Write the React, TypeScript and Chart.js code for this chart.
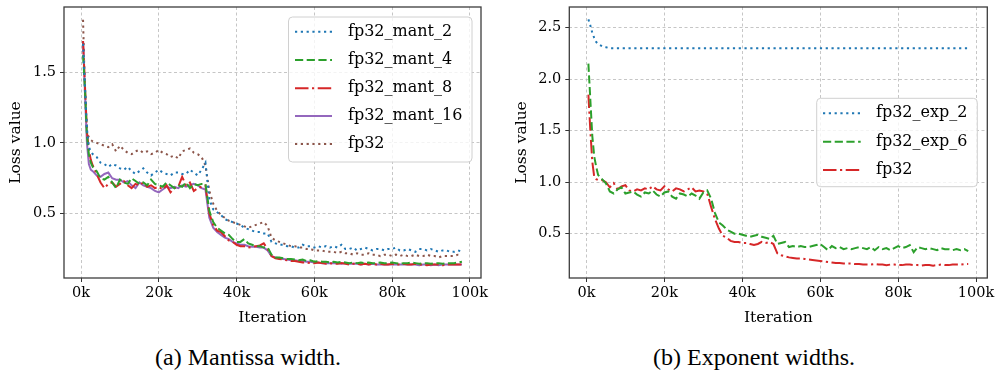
import React, { useEffect, useRef } from 'react';
import { Chart, registerables } from 'chart.js';
Chart.register(...registerables);

// Iterations (x values)
const iterations = [
  500, 1000, 1500, 2000, 2500, 3000, 4000, 5000, 6000, 7000, 8000, 9000, 10000,
  11000, 12000, 13000, 14000, 15000, 16000, 17000, 18000, 19000, 20000,
  21000, 22000, 23000, 24000, 25000, 26000, 27000, 28000, 29000, 30000,
  31000, 32000, 33000, 34000, 35000, 36000, 37000, 38000, 39000, 40000,
  41000, 42000, 43000, 44000, 45000, 46000, 47000, 48000, 49000, 50000,
  51000, 52000, 53000, 54000, 55000, 56000, 57000, 58000, 59000, 60000,
  61000, 62000, 63000, 64000, 65000, 66000, 67000, 68000, 69000, 70000,
  71000, 72000, 73000, 74000, 75000, 76000, 77000, 78000, 79000, 80000,
  81000, 82000, 83000, 84000, 85000, 86000, 87000, 88000, 89000, 90000,
  91000, 92000, 93000, 94000, 95000, 96000, 97000, 98000,
];

const xTicksK = [0, 20, 40, 60, 80, 100];

// ---- (a) Mantissa width ----
const fp32Mant2 = [
  1.70, 1.40, 1.10, 0.97, 0.94, 0.92, 0.90, 0.86, 0.85, 0.83, 0.85, 0.84, 0.82,
  0.81, 0.83, 0.80, 0.78, 0.80, 0.82, 0.79, 0.77, 0.79, 0.81,
  0.79, 0.78, 0.77, 0.79, 0.79, 0.78, 0.78, 0.81, 0.79, 0.77,
  0.81, 0.86, 0.60, 0.53, 0.51, 0.49, 0.46, 0.45, 0.44, 0.43,
  0.42, 0.40, 0.39, 0.38, 0.37, 0.37, 0.36, 0.36, 0.30, 0.29,
  0.28, 0.28, 0.27, 0.27, 0.26, 0.26, 0.28, 0.27, 0.27, 0.26,
  0.27, 0.26, 0.27, 0.26, 0.27, 0.26, 0.28, 0.25, 0.25, 0.26,
  0.24, 0.25, 0.26, 0.25, 0.24, 0.25, 0.25, 0.24, 0.25, 0.25,
  0.26, 0.24, 0.24, 0.25, 0.24, 0.23, 0.25, 0.25, 0.24, 0.25,
  0.24, 0.23, 0.24, 0.24, 0.23, 0.23, 0.24, 0.23,
];
const fp32Mant4 = [
  1.62, 1.38, 1.05, 0.92, 0.86, 0.83, 0.80, 0.75, 0.74, 0.76, 0.72, 0.68, 0.74,
  0.72, 0.71, 0.75, 0.73, 0.71, 0.72, 0.70, 0.74, 0.71, 0.70,
  0.69, 0.72, 0.70, 0.68, 0.70, 0.69, 0.72, 0.68, 0.71, 0.70,
  0.71, 0.71, 0.52, 0.44, 0.40, 0.38, 0.36, 0.35, 0.32, 0.30,
  0.30, 0.32, 0.29, 0.28, 0.27, 0.27, 0.26, 0.26, 0.21, 0.19,
  0.19, 0.185, 0.18, 0.18, 0.175, 0.17, 0.175, 0.165, 0.17, 0.16,
  0.165, 0.16, 0.16, 0.155, 0.16, 0.155, 0.16, 0.155, 0.15, 0.155,
  0.15, 0.155, 0.15, 0.155, 0.15, 0.15, 0.155, 0.15, 0.15, 0.155,
  0.15, 0.145, 0.15, 0.15, 0.155, 0.15, 0.145, 0.15, 0.15, 0.145,
  0.15, 0.15, 0.145, 0.15, 0.15, 0.15, 0.155, 0.16,
];
const fp32Mant8 = [
  1.72, 1.40, 1.08, 0.95, 0.88, 0.84, 0.78, 0.72, 0.68, 0.71, 0.72, 0.69, 0.71,
  0.73, 0.70, 0.68, 0.71, 0.70, 0.72, 0.69, 0.70, 0.68, 0.69,
  0.67, 0.70, 0.65, 0.68, 0.69, 0.76, 0.70, 0.72, 0.66, 0.68,
  0.69, 0.70, 0.50, 0.42, 0.38, 0.37, 0.34, 0.31, 0.30, 0.28,
  0.27, 0.27, 0.26, 0.265, 0.27, 0.275, 0.29, 0.25, 0.20, 0.185,
  0.18, 0.175, 0.17, 0.165, 0.165, 0.16, 0.155, 0.155, 0.15, 0.15,
  0.155, 0.15, 0.145, 0.15, 0.145, 0.145, 0.15, 0.145, 0.14, 0.145,
  0.145, 0.14, 0.145, 0.14, 0.145, 0.14, 0.145, 0.14, 0.14, 0.145,
  0.14, 0.14, 0.145, 0.14, 0.14, 0.145, 0.14, 0.14, 0.135, 0.14,
  0.14, 0.14, 0.135, 0.14, 0.14, 0.14, 0.14, 0.14,
];
const fp32Mant16 = [
  1.72, 1.35, 1.00, 0.85, 0.81, 0.80, 0.77, 0.76, 0.78, 0.79, 0.75, 0.74, 0.74,
  0.72, 0.73, 0.70, 0.68, 0.72, 0.70, 0.69, 0.68, 0.66, 0.65,
  0.67, 0.69, 0.68, 0.69, 0.68, 0.70, 0.69, 0.70, 0.71, 0.70,
  0.68, 0.67, 0.47, 0.40, 0.37, 0.35, 0.33, 0.32, 0.30, 0.29,
  0.28, 0.28, 0.27, 0.265, 0.265, 0.26, 0.26, 0.24, 0.20, 0.19,
  0.185, 0.18, 0.175, 0.17, 0.17, 0.165, 0.165, 0.16, 0.16, 0.155,
  0.155, 0.15, 0.15, 0.15, 0.15, 0.15, 0.145, 0.15, 0.145, 0.145,
  0.145, 0.14, 0.145, 0.14, 0.145, 0.14, 0.14, 0.14, 0.14, 0.14,
  0.14, 0.14, 0.14, 0.14, 0.14, 0.14, 0.135, 0.14, 0.14, 0.135,
  0.14, 0.135, 0.14, 0.14, 0.14, 0.14, 0.14, 0.14,
];
const fp32MantRef = [
  1.87, 1.35, 1.07, 1.04, 1.02, 1.01, 1.00, 0.99, 0.98, 0.97, 0.99, 0.94, 0.98,
  0.95, 0.93, 0.92, 0.94, 0.95, 0.93, 0.94, 0.92, 0.93, 0.95,
  0.93, 0.92, 0.90, 0.91, 0.89, 0.94, 0.95, 0.96, 0.93, 0.92,
  0.90, 0.84, 0.66, 0.57, 0.52, 0.49, 0.47, 0.45, 0.44, 0.43,
  0.42, 0.41, 0.40, 0.41, 0.42, 0.43, 0.44, 0.41, 0.33, 0.31,
  0.30, 0.29, 0.28, 0.27, 0.27, 0.26, 0.26, 0.25, 0.25, 0.24,
  0.24, 0.24, 0.23, 0.23, 0.23, 0.22, 0.23, 0.22, 0.22, 0.21,
  0.22, 0.21, 0.21, 0.22, 0.21, 0.21, 0.20, 0.21, 0.21, 0.20,
  0.21, 0.20, 0.21, 0.20, 0.20, 0.21, 0.20, 0.20, 0.21, 0.20,
  0.20, 0.19, 0.20, 0.20, 0.20, 0.20, 0.21, 0.21,
];

// ---- (b) Exponent widths ----
const fp32Exp2 = [
  2.58, 2.52, 2.45, 2.40, 2.36, 2.34, 2.32, 2.31, 2.30, 2.30, 2.30, 2.30, 2.30,
  2.30, 2.30, 2.30, 2.30, 2.30, 2.30, 2.30, 2.30, 2.30, 2.30,
  2.30, 2.30, 2.30, 2.30, 2.30, 2.30, 2.30, 2.30, 2.30, 2.30,
  2.30, 2.30, 2.30, 2.30, 2.30, 2.30, 2.30, 2.30, 2.30, 2.30,
  2.30, 2.30, 2.30, 2.30, 2.30, 2.30, 2.30, 2.30, 2.30, 2.30,
  2.30, 2.30, 2.30, 2.30, 2.30, 2.30, 2.30, 2.30, 2.30, 2.30,
  2.30, 2.30, 2.30, 2.30, 2.30, 2.30, 2.30, 2.30, 2.30, 2.30,
  2.30, 2.30, 2.30, 2.30, 2.30, 2.30, 2.30, 2.30, 2.30, 2.30,
  2.30, 2.30, 2.30, 2.30, 2.30, 2.30, 2.30, 2.30, 2.30, 2.30,
  2.30, 2.30, 2.30, 2.30, 2.30, 2.30, 2.30, 2.30,
];
const fp32Exp6 = [
  2.15, 1.80, 1.45, 1.25, 1.15, 1.07, 1.03, 0.99, 0.91, 0.89, 0.93, 0.95, 0.89,
  0.90, 0.91, 0.88, 0.86, 0.90, 0.89, 0.92, 0.88, 0.86, 0.90,
  0.91, 0.86, 0.84, 0.89, 0.88, 0.86, 0.89, 0.87, 0.84, 0.90,
  0.92, 0.84, 0.70, 0.61, 0.58, 0.54, 0.52, 0.50, 0.50, 0.49,
  0.48, 0.47, 0.48, 0.49, 0.47, 0.46, 0.45, 0.48, 0.40, 0.41,
  0.42, 0.37, 0.38, 0.37, 0.38, 0.37, 0.37, 0.38, 0.39, 0.40,
  0.37, 0.34, 0.38, 0.36, 0.37, 0.35, 0.36, 0.35, 0.36, 0.37,
  0.36, 0.35, 0.37, 0.34, 0.37, 0.35, 0.36, 0.34, 0.36, 0.38,
  0.36, 0.37, 0.39, 0.32, 0.37, 0.36, 0.35, 0.36, 0.35, 0.34,
  0.36, 0.35, 0.35, 0.34, 0.35, 0.34, 0.35, 0.33,
];
const fp32ExpRef = [
  1.85, 1.50, 1.20, 1.05, 1.03, 1.02, 1.02, 1.00, 0.95, 0.99, 0.93, 0.96, 0.97,
  0.92, 0.91, 0.93, 0.92, 0.94, 0.93, 0.96, 0.93, 0.92, 0.96,
  0.93, 0.91, 0.94, 0.93, 0.91, 0.93, 0.95, 0.91, 0.92, 0.91,
  0.89, 0.76, 0.64, 0.55, 0.48, 0.46, 0.43, 0.42, 0.42, 0.41,
  0.41, 0.40, 0.39, 0.40, 0.42, 0.41, 0.42, 0.40, 0.31, 0.29,
  0.28, 0.27, 0.265, 0.26, 0.26, 0.255, 0.25, 0.245, 0.24, 0.235,
  0.23, 0.225, 0.22, 0.215, 0.215, 0.21, 0.21, 0.21, 0.205, 0.205,
  0.20, 0.20, 0.20, 0.205, 0.20, 0.20, 0.195, 0.20, 0.20, 0.195,
  0.195, 0.20, 0.20, 0.195, 0.195, 0.19, 0.195, 0.195, 0.19, 0.195,
  0.20, 0.195, 0.195, 0.20, 0.20, 0.20, 0.205, 0.205,
];

const BLUE = '#1f77b4';
const GREEN = '#2ca02c';
const RED = '#d62728';
const PURPLE = '#9467bd';
const BROWN = '#8c564b';

const LW = 2;
const DOTTED = [2.2, 3.6];
const DASHED = [8.2, 3.5];
const DASHDOT = [13.5, 3.5, 2.2, 3.5];
const SOLID: number[] = [];

const TICK_FONT = { family: '"DejaVu Serif", serif', size: 14.5 };
const TITLE_FONT = { family: '"DejaVu Serif", serif', size: 15.5 };
const LEGEND_FONT = '16px "DejaVu Serif", serif';

function pts(ys: number[]) {
  return ys.map((y, i) => ({ x: iterations[i], y }));
}

function ds(label: string, ys: number[], color: string, dash: number[]) {
  return {
    label,
    data: pts(ys),
    borderColor: color,
    backgroundColor: color,
    borderWidth: LW,
    borderDash: dash,
    pointRadius: 0,
    tension: 0,
    fill: false,
  };
}

const framePlugin = {
  id: 'frame',
  afterDatasetsDraw(chart: any) {
    const { ctx, chartArea: a } = chart;
    ctx.save();
    ctx.strokeStyle = '#3c3c3c';
    ctx.lineWidth = 1.3;
    ctx.setLineDash([]);
    ctx.strokeRect(a.left, a.top, a.right - a.left, a.bottom - a.top);
    ctx.restore();
  },
};

const boxLegendPlugin = {
  id: 'boxLegend',
  afterDatasetsDraw(chart: any, _args: any, opts: any) {
    const { ctx } = chart;
    const { box, rows, handleX0, handleX1, textX } = opts;
    ctx.save();
    const r = 4;
    const { x, y, w, h } = box;
    ctx.beginPath();
    ctx.moveTo(x + r, y);
    ctx.lineTo(x + w - r, y);
    ctx.arcTo(x + w, y, x + w, y + r, r);
    ctx.lineTo(x + w, y + h - r);
    ctx.arcTo(x + w, y + h, x + w - r, y + h, r);
    ctx.lineTo(x + r, y + h);
    ctx.arcTo(x, y + h, x, y + h - r, r);
    ctx.lineTo(x, y + r);
    ctx.arcTo(x, y, x + r, y, r);
    ctx.closePath();
    ctx.fillStyle = 'rgba(255,255,255,0.8)';
    ctx.fill();
    ctx.strokeStyle = '#d0d0d0';
    ctx.lineWidth = 1;
    ctx.stroke();
    chart.data.datasets.forEach((d: any, i: number) => {
      const yy = rows[i];
      ctx.beginPath();
      ctx.strokeStyle = d.borderColor;
      ctx.lineWidth = d.borderWidth;
      ctx.setLineDash(d.borderDash || []);
      ctx.moveTo(handleX0, yy);
      ctx.lineTo(handleX1, yy);
      ctx.stroke();
      ctx.setLineDash([]);
      ctx.fillStyle = '#000';
      ctx.font = LEGEND_FONT;
      ctx.textBaseline = 'middle';
      ctx.textAlign = 'left';
      ctx.fillText(d.label, textX, yy);
    });
    ctx.restore();
  },
};

type Panel = {
  width: number;
  height: number;
  areaLeft: number;
  areaRight: number;
  areaTop: number;
  areaBottom: number;
  yMin: number;
  yMax: number;
  yTitlePad: number;
  datasets: any[];
  legend: any;
};

function makeConfig(p: Panel): any {
  return {
    type: 'line',
    data: { datasets: p.datasets },
    plugins: [framePlugin, boxLegendPlugin],
    options: {
      responsive: false,
      animation: false,
      events: [],
      layout: {
        padding: { left: 0, top: p.areaTop, right: p.width - p.areaRight, bottom: 0 },
      },
      plugins: {
        legend: { display: false },
        tooltip: { enabled: false },
        boxLegend: p.legend,
      },
      scales: {
        x: {
          type: 'linear',
          min: -4400,
          max: 102900,
          afterFit(s: any) {
            s.height = p.height - p.areaBottom;
            s.paddingLeft = 0;
            s.paddingRight = 0;
          },
          afterBuildTicks(s: any) {
            s.ticks = xTicksK.map((k) => ({ value: k * 1000 }));
          },
          ticks: {
            includeBounds: false,
            autoSkip: false,
            maxRotation: 0,
            padding: 3,
            color: '#000',
            font: TICK_FONT,
            callback: (v: number) => `${Math.round(v / 1000)}k`,
          },
          grid: {
            color: '#b8b8b8',
            lineWidth: 0.8,
            drawTicks: true,
            tickLength: 4,
            tickColor: '#333',
            tickWidth: 1,
            tickBorderDash: [],
          },
          border: { display: false, dash: [3, 2.5] },
          title: {
            display: true,
            text: 'Iteration',
            color: '#000',
            font: TITLE_FONT,
            padding: { top: 0, bottom: 12.5 },
          },
        },
        y: {
          type: 'linear',
          min: p.yMin,
          max: p.yMax,
          afterFit(s: any) {
            s.width = p.areaLeft;
            s.paddingTop = 0;
            s.paddingBottom = 0;
          },
          ticks: {
            includeBounds: false,
            stepSize: 0.5,
            padding: 4,
            color: '#000',
            font: TICK_FONT,
            callback: (v: number) => v.toFixed(1),
          },
          grid: {
            color: '#b8b8b8',
            lineWidth: 0.8,
            drawTicks: true,
            tickLength: 4,
            tickColor: '#333',
            tickWidth: 1,
            tickBorderDash: [],
          },
          border: { display: false, dash: [3, 2.5] },
          title: {
            display: true,
            text: 'Loss value',
            color: '#000',
            font: TITLE_FONT,
            padding: { top: p.yTitlePad, bottom: 0 },
          },
        },
      },
    },
  };
}

function ChartPanel({ panel, left }: { panel: Panel; left: number }) {
  const ref = useRef<HTMLCanvasElement | null>(null);
  useEffect(() => {
    if (!ref.current) return;
    const chart = new Chart(ref.current, makeConfig(panel));
    return () => chart.destroy();
  }, []);
  return (
    <canvas
      ref={ref}
      width={panel.width}
      height={panel.height}
      style={{ position: 'absolute', left, top: 0, width: panel.width, height: panel.height, display: 'block' }}
    />
  );
}

const panelA: Panel = {
  width: 497,
  height: 340,
  areaLeft: 64,
  areaRight: 481,
  areaTop: 7,
  areaBottom: 278,
  yMin: 0.045,
  yMax: 1.96,
  yTitlePad: 6.7,
  datasets: [
    ds('fp32_mant_2', fp32Mant2, BLUE, DOTTED),
    ds('fp32_mant_4', fp32Mant4, GREEN, DASHED),
    ds('fp32_mant_8', fp32Mant8, RED, DASHDOT),
    ds('fp32_mant_16', fp32Mant16, PURPLE, SOLID),
    ds('fp32', fp32MantRef, BROWN, DOTTED),
  ],
  legend: {
    box: { x: 288.5, y: 17, w: 183.5, h: 145 },
    rows: [31.7, 60, 88.3, 116, 144],
    handleX0: 295,
    handleX1: 332,
    textX: 348,
  },
};

const panelB: Panel = {
  width: 498,
  height: 340,
  areaLeft: 72.3,
  areaRight: 490.3,
  areaTop: 7,
  areaBottom: 278,
  yMin: 0.07,
  yMax: 2.7,
  yTitlePad: 15.5,
  datasets: [
    ds('fp32_exp_2', fp32Exp2, BLUE, DOTTED),
    ds('fp32_exp_6', fp32Exp6, GREEN, DASHED),
    ds('fp32', fp32ExpRef, RED, DASHDOT),
  ],
  legend: {
    box: { x: 319.7, y: 98.3, w: 160.6, h: 88.4 },
    rows: [113.3, 141.7, 170],
    handleX0: 326,
    handleX1: 363.7,
    textX: 379,
  },
};

const captionStyle: React.CSSProperties = {
  position: 'absolute',
  top: 344,
  width: 300,
  textAlign: 'center',
  fontFamily: '"Liberation Serif", "Times New Roman", serif',
  fontSize: 24,
  lineHeight: '26px',
  color: '#000',
  whiteSpace: 'nowrap',
};

export default function App() {
  return (
    <div style={{ position: 'absolute', left: 0, top: 0, width: 995, height: 377, background: '#fff', overflow: 'hidden' }}>
      <ChartPanel panel={panelA} left={0} />
      <ChartPanel panel={panelB} left={497} />
      <div style={{ ...captionStyle, left: 248 - 150 }}>(a) Mantissa width.</div>
      <div style={{ ...captionStyle, left: 754 - 150 }}>(b) Exponent widths.</div>
    </div>
  );
}
